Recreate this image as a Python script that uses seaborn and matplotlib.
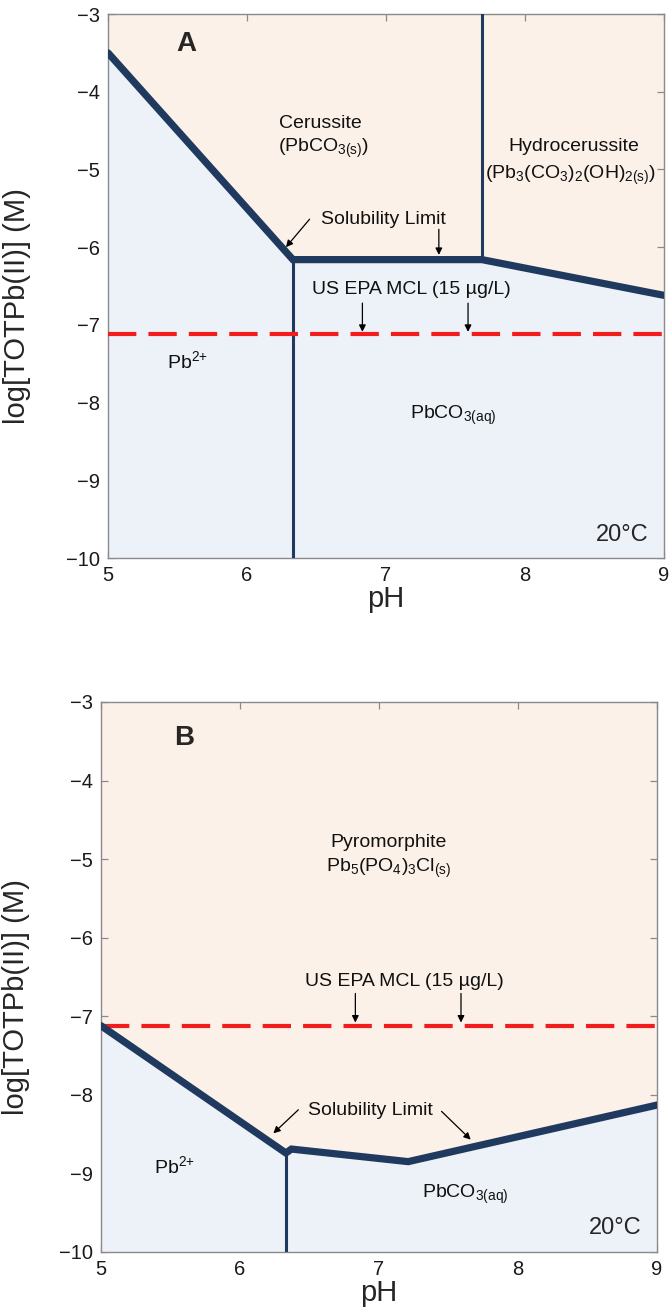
import matplotlib
matplotlib.use("Agg")
import matplotlib.pyplot as plt
import seaborn as sns
import pandas as pd

# Solubility boundaries, log[TOTPb(II)] (M) versus pH
ph_a = [5.0, 6.33, 7.69, 9.0]
logpb_a = [-3.50, -6.16, -6.16, -6.62]

ph_b = [5.0, 6.33, 6.37, 7.21, 9.0]
logpb_b = [-7.12, -8.74, -8.69, -8.85, -8.13]

# Phase boundaries between species (pH, bottom, top)
pb2_carb_a = (6.33, -10.0, -6.16)
cer_hydro_a = (7.69, -6.16, -3.0)
pb2_carb_b = (6.33, -10.0, -8.74)

mcl_log = -7.12  # US EPA MCL, 15 ug/L as log molar

x_ticks = [5, 6, 7, 8, 9]
y_ticks = [-3, -4, -5, -6, -7, -8, -9, -10]

sns.set_theme(style="ticks")
plt.rcParams["font.family"] = ["Liberation Sans", "DejaVu Sans"]
plt.rcParams["mathtext.default"] = "regular"

PEACH = "#FCF1E8"
BLUE = "#EDF1F8"
NAVY = "#1F3A5E"
RED = "#F21C1C"
GRAY = "#8A8A8A"

fig = plt.figure(figsize=(6.71, 13.13), dpi=100)
ax_a = fig.add_axes([0.1610, 0.5750, 0.8286, 0.4143])
ax_b = fig.add_axes([0.1505, 0.04646, 0.8286, 0.4189])


def style_axes(ax):
    ax.set_xlim(5, 9)
    ax.set_ylim(-10, -3)
    ax.set_xticks(x_ticks)
    ax.set_yticks(y_ticks)
    ax.set_facecolor(PEACH)
    for s in ax.spines.values():
        s.set_color(GRAY)
        s.set_linewidth(1.0)
    ax.tick_params(direction="in", length=5, width=0.9, color=GRAY,
                   top=True, right=True, labelsize=14.5, labelcolor="#1a1a1a")
    ax.tick_params(axis="y", pad=6)
    ax.tick_params(axis="x", pad=6)
    ax.grid(False)


def draw_panel(ax, ph, logpb, verticals, label_x):
    style_axes(ax)
    ax.fill_between(ph, -10, logpb, color=BLUE, linewidth=0, zorder=1)
    for xv, y0, y1 in verticals:
        sns.lineplot(x=[xv, xv], y=[y0, y1], ax=ax, color=NAVY, linewidth=2.2,
                     estimator=None, sort=False, zorder=3)
    ax.axhline(mcl_log, color=RED, linewidth=3.0, dashes=(6.8, 2.9), zorder=4)
    df = pd.DataFrame({"pH": ph, "logPb": logpb})
    sns.lineplot(data=df, x="pH", y="logPb", ax=ax, color=NAVY, linewidth=5.2,
                 estimator=None, sort=False, zorder=5,
                 solid_joinstyle="miter", solid_capstyle="round")
    ax.set_xlabel("pH", fontsize=21, labelpad=0)
    ax.set_ylabel("log[TOTPb(II)] (M)", fontsize=21)
    ax.yaxis.set_label_coords(label_x, 0.463)


def arrow(ax, tail, tip):
    ax.annotate("", xy=tip, xytext=tail,
                arrowprops=dict(arrowstyle="-|>", color="black", lw=0.9,
                                mutation_scale=10, shrinkA=0, shrinkB=0),
                zorder=6)


txt = dict(fontsize=14, ha="center", va="center", color="#111111", zorder=7)

# Panel A: carbonate system
draw_panel(ax_a, ph_a, logpb_a, [pb2_carb_a, cer_hydro_a], -0.138)
ax_a.text(5.56, -3.39, "A", fontsize=20, fontweight="bold", ha="center", va="center")
ax_a.text(6.53, -4.41, "Cerussite", **txt)
ax_a.text(6.55, -4.73, r"(PbCO$_{3(s)}$)", **txt)
ax_a.text(8.35, -4.71, "Hydrocerussite", **txt)
ax_a.text(8.33, -5.08, r"(Pb$_{3}$(CO$_{3}$)$_{2}$(OH)$_{2(s)}$)", **txt)
ax_a.text(6.98, -5.65, "Solubility Limit", **txt)
arrow(ax_a, (6.45, -5.64), (6.28, -6.00))
arrow(ax_a, (7.38, -5.77), (7.38, -6.10))
ax_a.text(7.18, -6.55, "US EPA MCL (15 µg/L)", **txt)
arrow(ax_a, (6.83, -6.72), (6.83, -7.09))
arrow(ax_a, (7.59, -6.72), (7.59, -7.09))
ax_a.text(5.57, -7.47, r"Pb$^{2{+}}$", **txt)
ax_a.text(7.48, -8.16, r"PbCO$_{3(aq)}$", **txt)
ax_a.text(8.89, -9.70, "20°C", fontsize=17, ha="right", va="center")

# Panel B: with orthophosphate and chloride
draw_panel(ax_b, ph_b, logpb_b, [pb2_carb_b], -0.128)
ax_b.text(5.60, -3.46, "B", fontsize=20, fontweight="bold", ha="center", va="center")
ax_b.text(7.07, -4.79, "Pyromorphite", **txt)
ax_b.text(7.07, -5.12, r"Pb$_{5}$(PO$_{4}$)$_{3}$Cl$_{(s)}$", **txt)
ax_b.text(7.18, -6.56, "US EPA MCL (15 µg/L)", **txt)
arrow(ax_b, (6.83, -6.71), (6.83, -7.08))
arrow(ax_b, (7.59, -6.71), (7.59, -7.08))
ax_b.text(6.94, -8.20, "Solubility Limit", **txt)
arrow(ax_b, (6.42, -8.19), (6.24, -8.49))
arrow(ax_b, (7.45, -8.21), (7.66, -8.57))
ax_b.text(5.53, -8.91, r"Pb$^{2{+}}$", **txt)
ax_b.text(7.62, -9.27, r"PbCO$_{3(aq)}$", **txt)
ax_b.text(8.89, -9.70, "20°C", fontsize=17, ha="right", va="center")

fig.savefig("out.png", dpi=100)
